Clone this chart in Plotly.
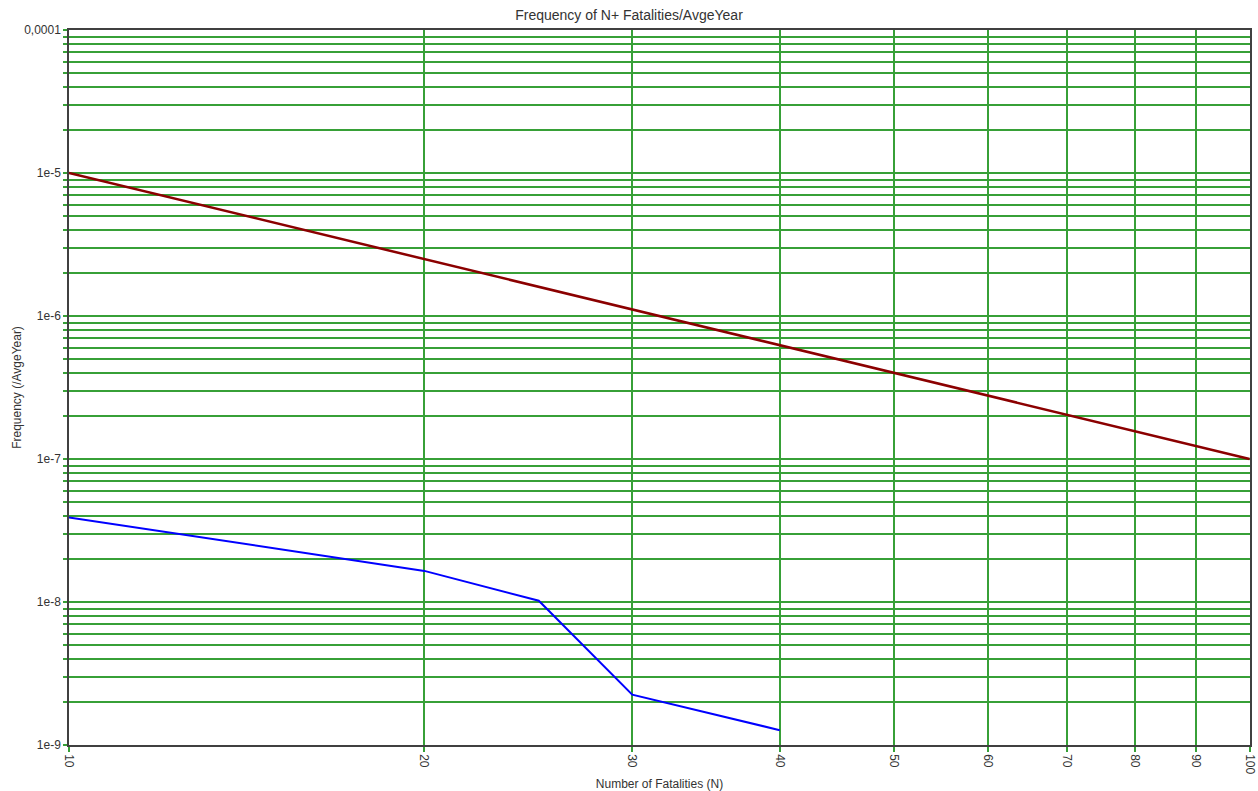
import plotly.graph_objects as go

# Data
red_n = [10, 100]
red_f = [1e-5, 1e-7]

blue_n = [10, 20, 25, 30, 40]
blue_f = [3.9e-8, 1.65e-8, 1.02e-8, 2.25e-9, 1.27e-9]

x_ticks = [10, 20, 30, 40, 50, 60, 70, 80, 90, 100]
x_labels = [str(v) for v in x_ticks]

y_decades = [-9, -8, -7, -6, -5, -4]
y_decade_labels = ["1e-9", "1e-8", "1e-7", "1e-6", "1e-5", "0,0001"]

y_vals = []
y_text = []
for i, e in enumerate(y_decades):
    for k in range(1, 10):
        if e == -4 and k > 1:
            break
        y_vals.append(k * 10.0 ** e)
        y_text.append(y_decade_labels[i] if k == 1 else "")

GREEN = "rgb(55,160,55)"
AXIS = "#404040"
FONT = "Liberation Sans, Arial, sans-serif"

fig = go.Figure()
fig.add_trace(go.Scatter(x=red_n, y=red_f, mode="lines",
                         line=dict(color="#8B0000", width=2.5), showlegend=False))
fig.add_trace(go.Scatter(x=blue_n, y=blue_f, mode="lines",
                         line=dict(color="#0000FF", width=2), showlegend=False))

fig.update_layout(
    width=1258, height=791,
    margin=dict(l=69, r=8, t=30, b=46, autoexpand=False),
    paper_bgcolor="white", plot_bgcolor="white",
    font=dict(family=FONT, size=11, color="#333333"),
    title=dict(text="Frequency of N+ Fatalities/AvgeYear", x=0.5, xanchor="center",
               y=1 - 15 / 791, yanchor="middle", font=dict(size=14, color="#333333")),
    showlegend=False,
)
fig.update_xaxes(
    type="log", range=[1, 2.0004], automargin=False,
    tickmode="array", tickvals=x_ticks, ticktext=x_labels, tickangle=90,
    ticklabeloverflow="allow",
    showgrid=True, gridcolor=GREEN, gridwidth=1.5,
    ticks="outside", ticklen=5, tickcolor=GREEN, tickwidth=1.5,
    showline=True, linecolor=AXIS, linewidth=1.5, mirror=True,
    zeroline=False,
    tickfont=dict(size=12, color="#333333"),
    title=dict(text="Number of Fatalities (N)", font=dict(size=12, color="#333333"), standoff=12),
)
fig.update_yaxes(
    type="log", range=[-9, -4], automargin=False,
    tickmode="array", tickvals=y_vals, ticktext=y_text,
    showgrid=True, gridcolor=GREEN, gridwidth=1.5,
    ticks="outside", ticklen=4, tickcolor=GREEN, tickwidth=1.5,
    showline=True, linecolor=AXIS, linewidth=1.5, mirror=True,
    zeroline=False,
    tickfont=dict(size=12, color="#333333"),
    title=dict(text="Frequency (/AvgeYear)", font=dict(size=12, color="#333333"), standoff=0),
)

fig.write_html("out.html")
